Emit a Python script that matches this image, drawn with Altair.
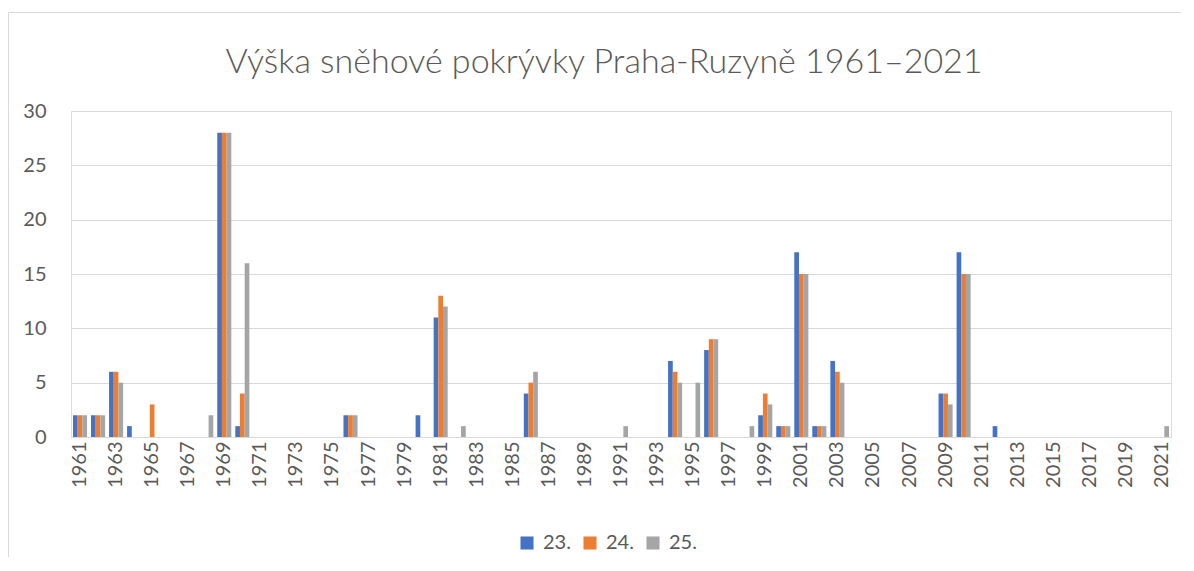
import altair as alt
import pandas as pd

years = [str(y) for y in range(1961, 2022)]
series_names = ["23.", "24.", "25."]
colors = ["#4472C4", "#ED7D31", "#A5A5A5"]
x_tick_labels = [str(y) for y in range(1961, 2022, 2)]
y_ticks = [0, 5, 10, 15, 20, 25, 30]

# 1961-1970, 1971-1980, 1981-1990, 1991-2000, 2001-2010, 2011-2020, 2021
snow_23 = [2, 2, 6, 1, 0, 0, 0, 0, 28, 1,
           0, 0, 0, 0, 0, 2, 0, 0, 0, 2,
           11, 0, 0, 0, 0, 4, 0, 0, 0, 0,
           0, 0, 0, 7, 0, 8, 0, 0, 2, 1,
           17, 1, 7, 0, 0, 0, 0, 0, 4, 17,
           0, 1, 0, 0, 0, 0, 0, 0, 0, 0,
           0]
snow_24 = [2, 2, 6, 0, 3, 0, 0, 0, 28, 4,
           0, 0, 0, 0, 0, 2, 0, 0, 0, 0,
           13, 0, 0, 0, 0, 5, 0, 0, 0, 0,
           0, 0, 0, 6, 0, 9, 0, 0, 4, 1,
           15, 1, 6, 0, 0, 0, 0, 0, 4, 15,
           0, 0, 0, 0, 0, 0, 0, 0, 0, 0,
           0]
snow_25 = [2, 2, 5, 0, 0, 0, 0, 2, 28, 16,
           0, 0, 0, 0, 0, 2, 0, 0, 0, 0,
           12, 1, 0, 0, 0, 6, 0, 0, 0, 0,
           1, 0, 0, 5, 5, 9, 0, 1, 3, 1,
           15, 1, 5, 0, 0, 0, 0, 0, 3, 15,
           0, 0, 0, 0, 0, 0, 0, 0, 0, 0,
           1]

rows = []
for name, vals in zip(series_names, [snow_23, snow_24, snow_25]):
    for y, v in zip(years, vals):
        rows.append({"rok": y, "den": name, "vyska": v})
df = pd.DataFrame(rows)

FONT = "Lato"
TXT = "#595959"

bars = alt.Chart(df).mark_bar().encode(
    x=alt.X(
        "rok:N", sort=years, title=None,
        scale=alt.Scale(paddingInner=0.22, paddingOuter=0.11),
        axis=alt.Axis(values=x_tick_labels, labelAngle=-90, labelAlign="right",
                      labelBaseline="middle", labelFontSize=20, labelColor=TXT,
                      labelFont=FONT, ticks=False, tickSize=0, labelPadding=4,
                      domainColor="#D9D9D9", domainWidth=1, grid=False,
                      labelOverlap=False),
    ),
    xOffset=alt.XOffset("den:N", sort=series_names,
                        scale=alt.Scale(paddingInner=0, paddingOuter=0)),
    y=alt.Y(
        "vyska:Q", title=None,
        scale=alt.Scale(domain=[0, 30], nice=False),
        axis=alt.Axis(values=y_ticks, labelFontSize=20, labelColor=TXT,
                      labelFont=FONT, ticks=False, tickSize=0, domain=False,
                      labelPadding=25, gridColor="#D9D9D9", gridWidth=1),
    ),
    color=alt.Color(
        "den:N", sort=series_names,
        scale=alt.Scale(domain=series_names, range=colors),
        legend=alt.Legend(title=None, orient="none", direction="horizontal",
                          legendX=446, legendY=422, symbolType="square",
                          symbolSize=170, symbolStrokeWidth=0, labelFontSize=20,
                          labelColor=TXT, labelFont=FONT, columnPadding=9,
                          labelOffset=6, padding=0),
    ),
)

border_df = pd.DataFrame({"b": [1]})
border = alt.Chart(border_df).mark_rect(
    fill=None, stroke="#D9D9D9", strokeWidth=1, clip=False
).encode(
    x=alt.value(-62.5), x2=alt.value(1115.5),
    y=alt.value(-98.5), y2=alt.value(480),
)

chart = alt.layer(border, bars).properties(
    width=1100, height=326,
    title=alt.Title("Výška sněhové pokrývky Praha-Ruzyně 1961–2021",
                    fontSize=34, font=FONT, fontWeight=300, color=TXT,
                    anchor="middle", offset=-68, dx=-17),
    autosize=alt.AutoSizeParams(type="none"),
    padding={"left": 63, "top": 103, "right": 10, "bottom": 120},
).configure_view(stroke=None).configure(background="white")

chart.save("out.html", embed_options={"renderer": "svg", "actions": False})
